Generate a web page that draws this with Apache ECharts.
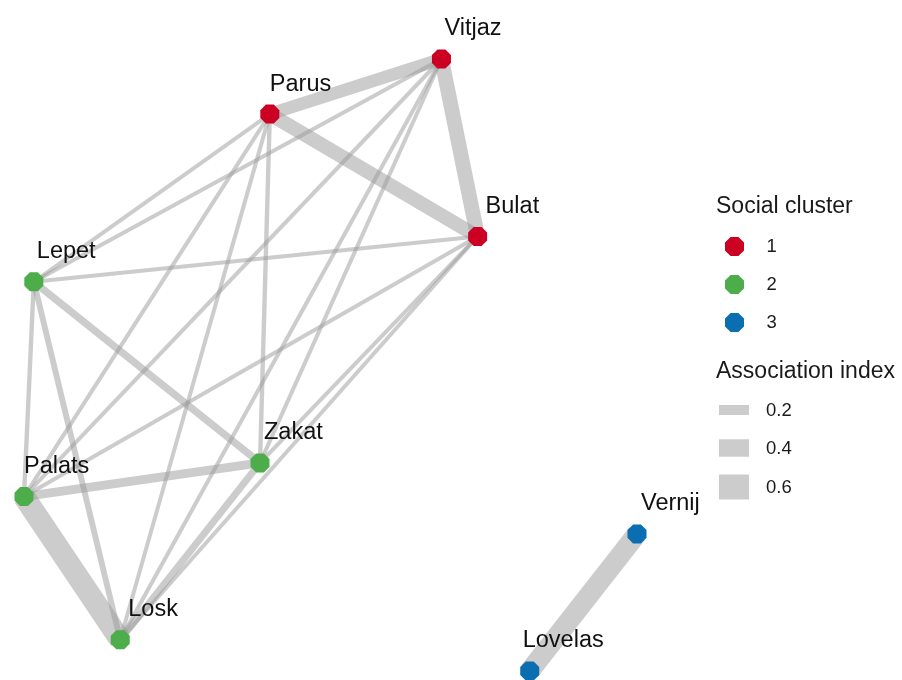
<!DOCTYPE html>
<html>
<head>
<meta charset="utf-8">
<title>Social network</title>
<script src="https://cdn.jsdelivr.net/npm/echarts@6/dist/echarts.min.js"></script>
<style>
  html, body { margin: 0; padding: 0; background: #ffffff; }
  #chart { width: 902px; height: 680px; }
</style>
</head>
<body>
<div id="chart"></div>
<script>
// Individuals, their social cluster and layout coordinates
const nodeNames   = ['Vitjaz', 'Parus', 'Bulat', 'Lepet', 'Zakat', 'Palats', 'Losk', 'Vernij', 'Lovelas'];
const nodeCluster = ['1', '1', '1', '2', '2', '2', '2', '3', '3'];
const nodeX       = [0.681, 0.401, 0.740, 0.016, 0.385, 0.000, 0.157, 1.000, 0.825];
const nodeY       = [1.000, 0.910, 0.710, 0.636, 0.340, 0.285, 0.051, 0.224, 0.000];

// Pairwise association indices
const edgeFrom   = ['Vitjaz', 'Vitjaz', 'Parus',
                    'Lepet', 'Lepet', 'Lepet', 'Palats', 'Palats', 'Losk',
                    'Lepet', 'Lepet', 'Lepet', 'Palats', 'Palats', 'Palats',
                    'Losk', 'Losk', 'Losk', 'Zakat', 'Zakat', 'Zakat',
                    'Vernij'];
const edgeTo     = ['Parus', 'Bulat', 'Bulat',
                    'Zakat', 'Palats', 'Losk', 'Zakat', 'Losk', 'Zakat',
                    'Vitjaz', 'Parus', 'Bulat', 'Vitjaz', 'Parus', 'Bulat',
                    'Vitjaz', 'Parus', 'Bulat', 'Vitjaz', 'Parus', 'Bulat',
                    'Lovelas'];
const edgeWeight = [0.27, 0.33, 0.31,
                    0.13, 0.05, 0.09, 0.17, 0.52, 0.12,
                    0.04, 0.04, 0.04, 0.04, 0.04, 0.04,
                    0.04, 0.04, 0.04, 0.04, 0.05, 0.04,
                    0.47];

// Legend entries
const clusterLevels = ['1', '2', '3'];
const weightBreaks  = [0.2, 0.4, 0.6];
const weightLabels  = ['0.2', '0.4', '0.6'];

// ---- styling ----
const clusterColors = { '1': '#CC0022', '2': '#4DAD4A', '3': '#0A6EB0' };
const labelNudge = { Vitjaz: 3, Parus: 0, Bulat: 8, Lepet: 3, Zakat: 4, Palats: 0, Losk: 8, Vernij: 4, Lovelas: -7 };
const FONT = "'Liberation Sans', Arial, sans-serif";
const octagon = 'path://M29.29,0L70.71,0L100,29.29L100,70.71L70.71,100L29.29,100L0,70.71L0,29.29Z';
const NODE_SIZE = 19;
const edgeWidth = v => 2.5 + 37.5 * v;

const chart = echarts.init(document.getElementById('chart'), null, { renderer: 'canvas' });

const nodes = nodeNames.map((name, i) => ({
  name: name,
  value: [nodeX[i], nodeY[i]],
  category: clusterLevels.indexOf(nodeCluster[i]),
  label: { offset: [labelNudge[name], 0] }
}));

const links = edgeFrom.map((s, i) => ({
  source: s,
  target: edgeTo[i],
  value: edgeWeight[i],
  lineStyle: { width: edgeWidth(edgeWeight[i]) }
}));

// Association index key: grey bars as thick as the edges they stand for
const keyCentres = [410, 448, 487];
const weightKey = [];
weightBreaks.forEach((b, i) => {
  const h = edgeWidth(b);
  weightKey.push({
    type: 'rect',
    shape: { x: 719, y: keyCentres[i] - h / 2, width: 30, height: h },
    style: { fill: '#CCCCCC' },
    silent: true
  });
  weightKey.push({
    type: 'text',
    x: 766, y: keyCentres[i] + 1,
    style: { text: weightLabels[i], font: '18.5px ' + FONT, fill: '#1A1A1A', textVerticalAlign: 'middle' },
    silent: true
  });
});

chart.setOption({
  backgroundColor: '#ffffff',
  animation: false,
  grid: { left: 24, top: 59, width: 613, height: 612 },
  xAxis: { type: 'value', min: 0, max: 1, show: false },
  yAxis: { type: 'value', min: 0, max: 1, show: false },
  legend: {
    data: clusterLevels,
    orient: 'vertical',
    left: 720,
    top: 232,
    itemWidth: 54,
    itemHeight: NODE_SIZE,
    itemGap: 19,
    icon: octagon,
    textStyle: { fontFamily: FONT, fontSize: 18.5, color: '#1A1A1A' },
    selectedMode: false
  },
  graphic: [
    {
      type: 'text', x: 716, y: 207,
      style: { text: 'Social cluster', font: '23px ' + FONT, fill: '#1A1A1A', textVerticalAlign: 'middle' },
      silent: true
    },
    {
      type: 'text', x: 716, y: 372,
      style: { text: 'Association index', font: '23px ' + FONT, fill: '#1A1A1A', textVerticalAlign: 'middle' },
      silent: true
    }
  ].concat(weightKey),
  series: [{
    type: 'graph',
    coordinateSystem: 'cartesian2d',
    layout: 'none',
    symbol: octagon,
    symbolSize: NODE_SIZE,
    categories: clusterLevels.map(c => ({ name: c, itemStyle: { color: clusterColors[c] } })),
    data: nodes,
    links: links,
    lineStyle: { color: '#999999', opacity: 0.5, curveness: 0 },
    label: {
      show: true,
      position: 'top',
      distance: 20.5,
      align: 'left',
      verticalAlign: 'middle',
      fontFamily: FONT,
      fontSize: 23.5,
      color: '#111111'
    },
    emphasis: { disabled: true },
    z: 2
  }]
});
</script>
</body>
</html>
